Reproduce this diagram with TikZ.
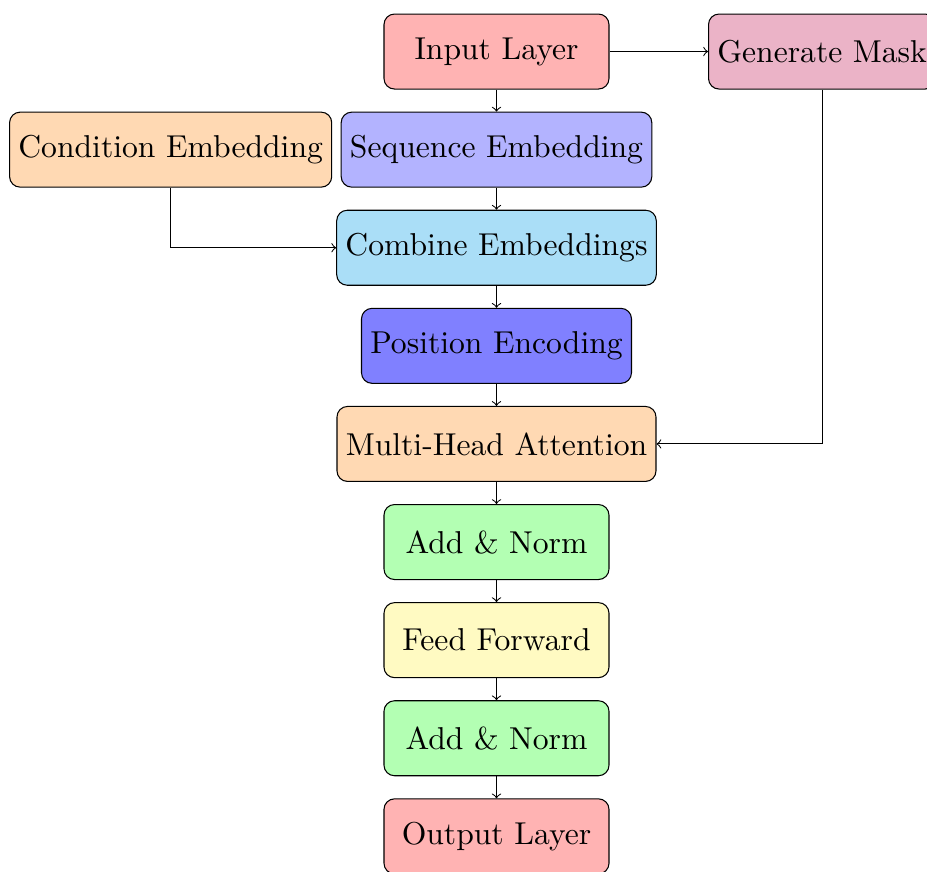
\documentclass[tikz,border=0pt]{standalone}
\usepackage{fontspec}
\newfontfamily\lmten{lmroman10-regular.otf}
\usetikzlibrary{positioning}
\definecolor{cRed}{RGB}{255,179,179}
\definecolor{cMask}{RGB}{235,179,199}
\definecolor{cOrange}{RGB}{255,217,179}
\definecolor{cBlueA}{RGB}{179,179,255}
\definecolor{cSky}{RGB}{170,222,247}
\definecolor{cBlueB}{RGB}{128,128,255}
\definecolor{cGreen}{RGB}{179,255,179}
\definecolor{cYellow}{RGB}{255,250,194}
\tikzset{
  blk/.style={draw, rounded corners, minimum width=3cm, minimum height=1cm, font=\lmten\large, align=center},
  link/.style={->}
}
\begin{document}
\begin{tikzpicture}
\useasboundingbox (-6.62,0.687) rectangle (5.74,-10.927);
\node[blk, fill=cRed] (inp) at (0,0) {Input Layer};
\node[blk, fill=cBlueA] (seq) at (0,-1.308) {Sequence Embedding};
\node[blk, fill=cSky] (comb) at (0,-2.616) {Combine Embeddings};
\node[blk, fill=cBlueB] (pos) at (0,-3.924) {Position Encoding};
\node[blk, fill=cOrange] (mha) at (0,-5.232) {Multi-Head Attention};
\node[blk, fill=cGreen] (an1) at (0,-6.54) {Add \& Norm};
\node[blk, fill=cYellow] (ff) at (0,-7.848) {Feed Forward};
\node[blk, fill=cGreen] (an2) at (0,-9.156) {Add \& Norm};
\node[blk, fill=cRed] (out) at (0,-10.464) {Output Layer};
\node[blk, fill=cMask, anchor=west] (mask) at (2.82,0) {Generate Mask};
\node[blk, fill=cOrange, anchor=east] (cond) at (-2.19,-1.308) {Condition Embedding};
\draw[link] (inp) -- (seq);
\draw[link] (seq) -- (comb);
\draw[link] (comb) -- (pos);
\draw[link] (pos) -- (mha);
\draw[link] (mha) -- (an1);
\draw[link] (an1) -- (ff);
\draw[link] (ff) -- (an2);
\draw[link] (an2) -- (out);
\draw[link] (inp) -- (mask);
\draw[link] (cond.south) |- (comb.west);
\draw[link] (mask.south) |- (mha.east);
\end{tikzpicture}
\end{document}
